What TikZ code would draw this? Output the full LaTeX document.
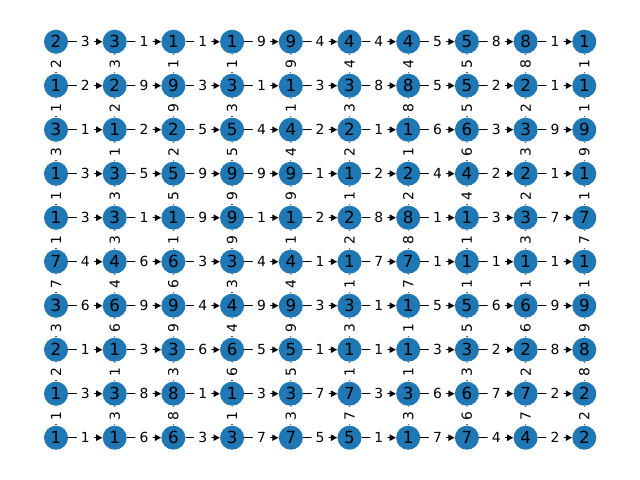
\documentclass[tikz,border=0pt]{standalone}
\usepackage{fontspec}
\setmainfont{DejaVu Sans}
\usetikzlibrary{arrows.meta}
\definecolor{nxblue}{HTML}{1F77B4}

\begin{document}
\begin{tikzpicture}[
  x=0.72pt, y=-0.72pt,
  vert/.style={circle, fill=nxblue, minimum size=17.3pt, inner sep=0pt,
               font=\fontsize{12}{14}\selectfont},
  fl/.style={-{Triangle[length=4.5pt, width=4.5pt]}, line width=1pt},
  wt/.style={fill=white, rounded corners=3pt, inner xsep=3pt, inner ysep=1.5pt,
             font=\fontsize{10}{12}\selectfont}
]
\useasboundingbox (0,0) rectangle (640,480);

\def\gridvals{{2,3,1,1,9,4,4,5,8,1},{1,2,9,3,1,3,8,5,2,1},{3,1,2,5,4,2,1,6,3,9},
  {1,3,5,9,9,1,2,4,2,1},{1,3,1,9,1,2,8,1,3,7},{7,4,6,3,4,1,7,1,1,1},
  {3,6,9,4,9,3,1,5,6,9},{2,1,3,6,5,1,1,3,2,8},{1,3,8,1,3,7,3,6,7,2},
  {1,1,6,3,7,5,1,7,4,2}}

% ---------- grid of cells ----------
\foreach \row [count=\i from 0] in \gridvals {
  \foreach \v [count=\j from 0] in \row {
    \node[vert] (n-\i-\j) at ({56+58.7*\j}, {41.7+44*\i}) {\v};
  }
}

% ---------- edges into each cell, weighted by its value ----------
\foreach \row [count=\i from 0] in \gridvals {
  \foreach \v [count=\j from 0] in \row {
    \ifnum\j>0
      \pgfmathtruncatemacro\jp{\j-1}
      \draw[fl] (n-\i-\jp) -- node[wt] {\v} (n-\i-\j);
    \fi
    \ifnum\i<9
      \pgfmathtruncatemacro\ip{\i+1}
      \draw[fl] (n-\ip-\j) -- node[wt, rotate=90] {\v} (n-\i-\j);
    \fi
  }
}

\end{tikzpicture}
\end{document}
